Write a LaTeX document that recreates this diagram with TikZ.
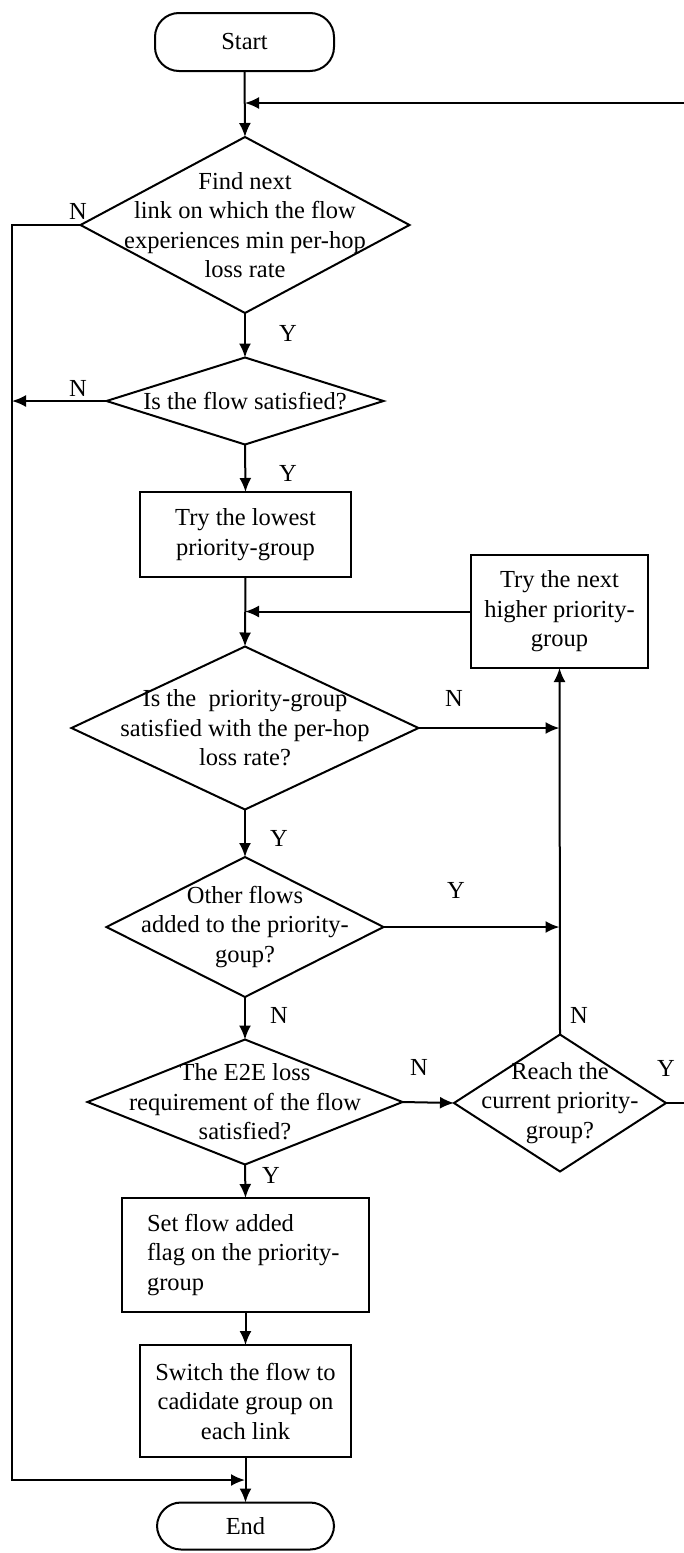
\documentclass[tikz,border=0pt]{standalone}
\usepackage{fontspec}
\setmainfont{Liberation Serif}
\usetikzlibrary{shapes.geometric,arrows.meta}
\begin{document}
\begin{tikzpicture}[x=1pt,y=-1pt,
  line width=2pt,
  every node/.style={font=\fontsize{24.5}{29.5}\selectfont},
  box/.style={draw, rectangle, inner sep=0pt, outer sep=0pt, align=center},
  term/.style={draw, rectangle, rounded corners=24pt, inner sep=0pt, outer sep=0pt},
  dia/.style={draw, diamond, inner sep=0pt, outer sep=0pt},
  txt/.style={align=center, inner sep=0pt},
  lbl/.style={inner sep=0pt},
  arr/.style={-{Latex[length=14pt,width=12pt]}},
]
\useasboundingbox (0,0) rectangle (684,1553);
\clip (0,0) rectangle (684,1553);

% terminals
\node[term, minimum width=179pt, minimum height=58pt] (start) at (244.5,42) {Start};
\node[term, minimum width=177pt, minimum height=47pt] (end) at (245.5,1526) {End};

% decisions
\node[dia, minimum width=329pt, minimum height=176pt] (d1) at (245,225) {};
\node[txt] (d1t) at (d1) {Find next\\link on which the flow\\experiences min per-hop\\loss rate};

\node[dia, minimum width=277pt, minimum height=87pt] (d2) at (245,401) {};
\node[txt] (d2t) at (d2) {Is the flow satisfied?};

\node[dia, minimum width=347pt, minimum height=163pt] (d3) at (245,728) {};
\node[txt] (d3t) at (d3) {Is the\ \ priority-group\\satisfied with the per-hop\\loss rate?};

\node[dia, minimum width=277pt, minimum height=140pt] (d4) at (245,927) {};
\node[txt] (d4t) at (d4) {Other flows\\added to the priority-\\goup?};

\node[dia, minimum width=315pt, minimum height=125pt] (d5) at (245,1102) {};
\node[txt] (d5t) at (d5) {The E2E loss\\requirement of the flow\\satisfied?};

\node[dia, minimum width=212pt, minimum height=137pt] (d6) at (560,1103) {};
\node[txt] (d6t) at (d6) {Reach the\\current priority-\\group?};

% process boxes
\node[box, minimum width=211pt, minimum height=85pt] (b1) at (245.5,534.5) {Try the lowest\\priority-group};
\node[box, minimum width=177pt, minimum height=113pt] (b2) at (559.5,611.5) {Try the next\\higher priority-\\group};
\node[box, minimum width=247pt, minimum height=114pt] (b3) at (245.5,1255) {};
\node[txt, align=left, anchor=west] (b3t) at (146,1255) {Set flow added\\flag on the priority-\\group};
\node[box, minimum width=211pt, minimum height=112pt] (b4) at (245.5,1401) {Switch the flow to\\cadidate group on\\each link};

% junction points
\coordinate (fbIn) at (245,103);
\coordinate (fbTop) at (700,103);
\coordinate (fbBot) at (700,1103);
\coordinate (lTop) at (12,225);
\coordinate (lMid) at (12,401);
\coordinate (lBot) at (12,1480);
\coordinate (endJoin) at (245,1480);
\coordinate (loopIn) at (245,611.5);
\coordinate (rA) at (559.5,728);
\coordinate (rB) at (559.5,927);

% main flow
\draw[arr] (start.south) -- (d1.north);
\draw[arr] (d1.south) -- (d2.north);
\draw[arr] (d2.south) -- (b1.north);
\draw[arr] (b1.south) -- (d3.north);
\draw[arr] (d3.south) -- (d4.north);
\draw[arr] (d4.south) -- (d5.north);
\draw[arr] (d5.south) -- (b3.north);
\draw[arr] (b3.south) -- (b4.north);
\draw[arr] (b4.south) -- (end.north);

% branches
\draw[arr] (d1.west) -- (lTop) -- (lBot) -- (endJoin);
\draw[arr] (d2.west) -- (lMid);
\draw[arr] (d3.east) -- (rA);
\draw[arr] (d4.east) -- (rB);
\draw[arr] (d5.east) -- (d6.west);
\draw[arr] (d6.north) -- (b2.south);
\draw[arr] (b2.west) -- (loopIn);
\draw[arr] (d6.east) -- (fbBot) -- (fbTop) -- (fbIn);

% branch labels
\node[lbl] at (78,211) {N};
\node[lbl] at (288,333) {Y};
\node[lbl] at (78,388) {N};
\node[lbl] at (288,473) {Y};
\node[lbl] at (454,698) {N};
\node[lbl] at (279,838) {Y};
\node[lbl] at (456,890) {Y};
\node[lbl] at (279,1015) {N};
\node[lbl] at (419,1067) {N};
\node[lbl] at (579,1015) {N};
\node[lbl] at (666,1068) {Y};
\node[lbl] at (271,1175) {Y};
\end{tikzpicture}
\end{document}
